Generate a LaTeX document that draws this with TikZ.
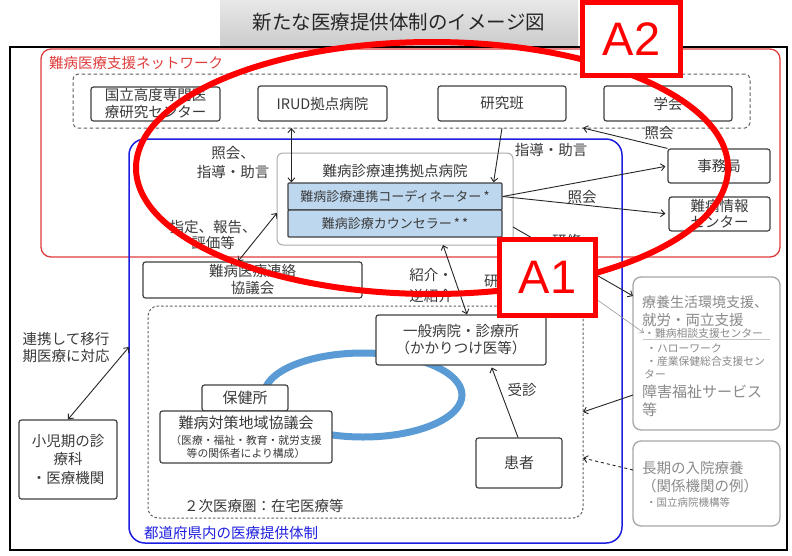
\documentclass[tikz,border=0pt]{standalone}
\usepackage{fontspec}
\setmainfont{Noto Sans CJK JP}
\newfontfamily\latinA{Liberation Sans}
\usetikzlibrary{arrows.meta}
\definecolor{boxc}{HTML}{404040}
\definecolor{txt}{HTML}{3A3A3A}
\definecolor{cfill}{HTML}{BDD7EE}
\definecolor{netred}{HTML}{E03C3C}
\definecolor{frblue}{HTML}{1E1EE0}
\definecolor{gbox}{HTML}{A6A6A6}
\definecolor{gtxt}{HTML}{8A8A8A}
\definecolor{ringblue}{HTML}{5B9BD5}
\definecolor{dashc}{HTML}{606060}
\newcommand\fmain{\fontsize{14.5}{17}\selectfont}
\newcommand\fmid{\fontsize{13}{15}\selectfont}
\newcommand\fsm{\fontsize{10.8}{13}\selectfont}
\tikzset{
  frame/.style={inner sep=0pt, outer sep=0pt},
  bx/.style={draw=boxc, line width=1.2pt, rounded corners=2.5pt, fill=white, text=txt, align=center, inner sep=0pt, font=\fmain},
  gbx/.style={frame, draw=gbox, line width=1.3pt, rounded corners=8pt, fill=white, anchor=north west},
  lbl/.style={text=txt, align=center, inner sep=0pt, font=\fmain},
  gl/.style={anchor=west, text=gtxt, inner sep=0pt},
  arr/.style={-{Straight Barb[length=4pt,width=7pt]}, line width=0.9pt, draw=black!85},
  darr/.style={{Straight Barb[length=4pt,width=7pt]}-{Straight Barb[length=4pt,width=7pt]}, line width=0.9pt, draw=black!85},
  garr/.style={-{Straight Barb[length=4pt,width=6pt]}, line width=0.6pt, draw=gray!80},
  abox/.style={frame, draw=red, line width=5pt, fill=white, text=red, font=\latinA\fontsize{47}{50}\selectfont}
}
\begin{document}
\begin{tikzpicture}[x=1pt,y=-1pt]
\useasboundingbox (0,0) rectangle (792,555);
\fill[white] (0,0) rectangle (792,555);
% title
\node[frame, minimum width=358pt, minimum height=45pt, top color=black!9, bottom color=black!20, anchor=north west, font=\fontsize{19.5}{22}\selectfont, text=black!85] (title) at (220,0) {新たな医療提供体制のイメージ図};
% frames
\node[frame, draw=black, line width=1.5pt, minimum width=777pt, minimum height=503pt, anchor=north west] (outer) at (10,47) {};
\node[frame, draw=netred, line width=1.3pt, rounded corners=10pt, minimum width=739pt, minimum height=208pt, anchor=north west] (net) at (41,49) {};
\node[anchor=west, text=netred, inner sep=0pt, font=\fontsize{14.5}{17}\selectfont] (netlbl) at (49,63) {難病医療支援ネットワーク};
\node[frame, draw=dashc, dash pattern=on 3.5pt off 2.5pt, line width=1pt, rounded corners=5pt, minimum width=677pt, minimum height=54pt, anchor=north west] (dashnet) at (73,74) {};
\node[frame, draw=frblue, line width=1.5pt, rounded corners=16pt, minimum width=493pt, minimum height=404pt, anchor=north west] (blue) at (129,139) {};
\node[anchor=west, text=frblue, inner sep=0pt, font=\fmain] (bluelbl) at (144,533) {都道府県内の医療提供体制};
\node[frame, draw=dashc, dash pattern=on 2.5pt off 2pt, line width=1pt, rounded corners=10pt, minimum width=435pt, minimum height=212pt, anchor=north west] (inner) at (148,306) {};
\node[anchor=west, text=txt, inner sep=0pt, font=\fmain] (nijilbl) at (184,506) {２次医療圏：在宅医療等};
% ring
\draw[ringblue, line width=7pt] (363,395) ellipse [x radius=99pt, y radius=42pt];
% network boxes
\node[bx, minimum width=129pt, minimum height=34pt] (nat) at (155.5,104) {国立高度専門医\\療研究センター};
\node[bx, minimum width=129pt, minimum height=35pt] (irud) at (322.5,103.5) {IRUD拠点病院};
\node[bx, minimum width=128pt, minimum height=35pt] (ken) at (502,103.5) {研究班};
\node[bx, minimum width=128pt, minimum height=35pt] (gak) at (668,103.5) {学会};
% kyoten
\node[frame, draw=gray!65, line width=1pt, rounded corners=6pt, fill=white, minimum width=236pt, minimum height=92pt] (kyoten) at (395,199) {};
\node[lbl] (kyotitle) at (395,171) {難病診療連携拠点病院};
\node[bx, fill=cfill, rounded corners=1pt, minimum width=214pt, minimum height=27pt, font=\fmid] (coord) at (395,196.5) {難病診療連携コーディネーター\,*};
\node[bx, fill=cfill, rounded corners=1pt, minimum width=214pt, minimum height=27pt, font=\fmid] (couns) at (395,223.5) {難病診療カウンセラー\,*\,*};
\node[bx, minimum width=102pt, minimum height=34pt] (jim) at (719,166) {事務局};
\node[bx, minimum width=101pt, minimum height=34pt, font=\fontsize{14.5}{16}\selectfont] (joho) at (719.5,214) {難病情報\\センター};
\node[bx, minimum width=219pt, minimum height=36pt] (renraku) at (252.5,280) {難病医療連絡\\協議会};
% local
\node[bx, minimum width=170pt, minimum height=50pt] (ippan) at (461,340) {一般病院・診療所\\（かかりつけ医等）};
\node[bx, minimum width=86pt, minimum height=26pt, font=\fontsize{15}{17}\selectfont] (hoken) at (245,398) {保健所};
\node[bx, minimum width=172pt, minimum height=52pt, font=\fsm] (chiiki) at (246,437) {\fontsize{15}{16}\selectfont 難病対策地域協議会\\[3pt]\fsm （医療・福祉・教育・就労支援\\\fsm 等の関係者により構成）};
\node[bx, minimum width=86pt, minimum height=50pt, font=\fontsize{15}{17}\selectfont] (kanja) at (519,463) {患者};
\node[bx, minimum width=98pt, minimum height=79pt, font=\fontsize{14.5}{18.5}\selectfont] (shoni) at (68,459.5) {小児期の診\\療科\\・医療機関};
% right gray boxes
\node[gbx, minimum width=147pt, minimum height=153pt] (ryoyo) at (633,277) {};
\node[gl, font=\fontsize{14}{16}\selectfont] (r1) at (642,302) {療養生活環境支援、};
\node[gl, font=\fontsize{14.5}{16}\selectfont] (r2) at (642,320) {就労・両立支援};
\node[gl, font=\fsm] (soudan) at (644,333) {・難病相談支援センター};
\draw[gray!45, line width=1.2pt] (643,339.5) -- (770,339.5);
\node[gl, font=\fsm] (r4) at (646,348) {・ハローワーク};
\node[gl, font=\fsm] (r5) at (646,361) {・産業保健総合支援セン};
\node[gl, font=\fsm] (r6) at (644,374) {ター};
\node[gl, font=\fontsize{15}{17}\selectfont] (r7) at (642,392) {障害福祉サービス};
\node[gl, font=\fontsize{15}{17}\selectfont] (r8) at (642,410) {等};
\node[gbx, minimum width=147pt, minimum height=85pt] (choki) at (633,441) {};
\node[gl, font=\fmain] (c1) at (642,468) {長期の入院療養};
\node[gl, font=\fmain] (c2) at (642,486) {（関係機関の例）};
\node[gl, font=\fontsize{10.5}{12}\selectfont] (c3) at (646,502) {・国立病院機構等};
% labels
\node[lbl, font=\fontsize{14.5}{19}\selectfont] (l1) at (233,162.5) {照会、\\指導・助言};
\node[lbl, font=\fontsize{14.5}{16}\selectfont] (l2) at (213,235) {指定、報告、\\評価等};
\node[lbl] (l3) at (551,150) {指導・助言};
\node[lbl] (l4) at (659,133) {照会};
\node[lbl] (l5) at (582,197) {照会};
\node[lbl, align=left, font=\fontsize{14.5}{21}\selectfont] (l6) at (431,285) {紹介・\\逆紹介};
\node[lbl] (l7) at (522,390) {受診};
\node[lbl] (l8) at (66,348) {連携して移行\\期医療に対応};
\node[lbl, anchor=west] (k1) at (552,241) {研修};
\node[lbl, anchor=west] (k2) at (484,281) {研修};
% connectors
\coordinate (p1) at ([xshift=4pt]coord.north west);
\draw[darr] (p1 |- dashnet.south) -- (p1);
\coordinate (p2) at ([xshift=-9pt]coord.north east);
\draw[arr] (ken.south |- dashnet.south) -- (p2);
\draw[arr] (jim.north west) -- (583,0 |- dashnet.south);
\draw[arr, shorten >=2pt] (coord.east) -- (jim.west);
\draw[arr, shorten >=3pt] (coord.east) -- (joho.west);
\draw[arr] ([yshift=-28pt]kyoten.east) -- ([yshift=-19pt]ryoyo.north west);
\draw[garr] ([yshift=-41pt]kyoten.east) -- (soudan.west);
\draw[darr] (238,0 |- renraku.north) -- (kyoten.west |- 0,213);
\draw[darr] (443,0 |- kyoten.south) -- (467,0 |- ippan.north);
\draw[arr, shorten >=2pt] (518,0 |- kanja.north) -- (491,0 |- ippan.south);
\draw[arr] (ryoyo.west |- 0,395) -- (inner.east |- 0,412);
\draw[arr, dashed] (choki.west |- 0,470) -- (inner.east |- 0,458);
\draw[darr] (shoni.north) -- (blue.west |- 0,347);
% red annotation
\draw[red, line width=6pt] (432,168) ellipse [x radius=296pt, y radius=126pt];
\node[abox, minimum width=98pt, minimum height=73pt] (A2) at (631.5,39) {A2};
\node[abox, minimum width=96pt, minimum height=76pt] (A1) at (547.5,277.5) {A1};
\end{tikzpicture}
\end{document}
